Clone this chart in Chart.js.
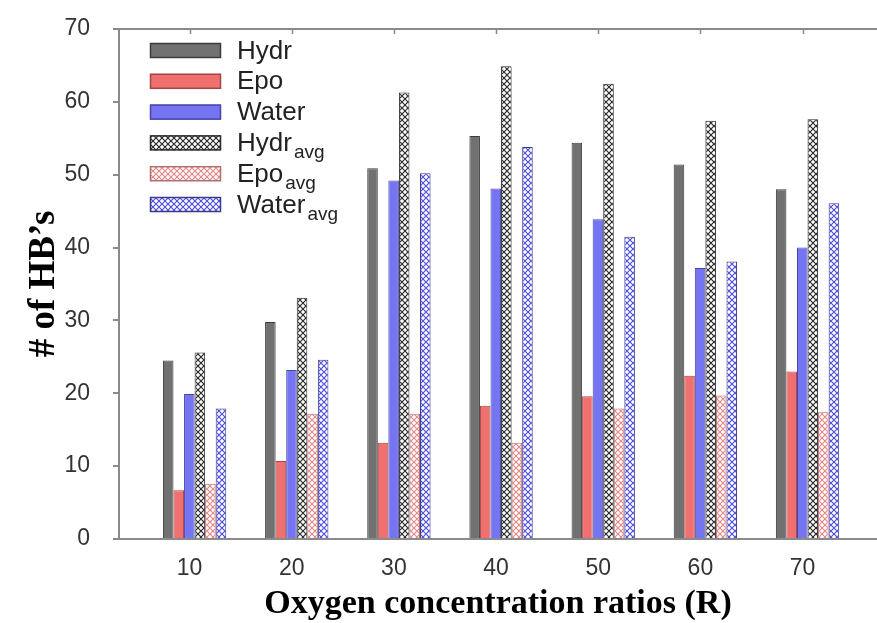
<!DOCTYPE html>
<html><head><meta charset="utf-8">
<script src="https://cdn.jsdelivr.net/npm/chart.js@4/dist/chart.umd.min.js"></script>
<style>html,body{margin:0;padding:0;background:#fff;overflow:hidden;} canvas{display:block;}</style>
</head><body>
<canvas id="c" width="877" height="623"></canvas>
<script>
const categories = [10, 20, 30, 40, 50, 60, 70];
const hydr     = [24.5, 29.8, 50.9, 55.3, 54.4, 51.4, 48.0];
const epo      = [6.7, 10.7, 13.2, 18.3, 19.6, 22.4, 23.0];
const water    = [19.9, 23.2, 49.2, 48.1, 43.9, 37.2, 40.0];
const hydrAvg  = [25.6, 33.1, 61.3, 64.9, 62.5, 57.4, 57.6];
const epoAvg   = [7.6, 17.2, 17.2, 13.2, 17.9, 19.7, 17.4];
const waterAvg = [17.9, 24.6, 50.2, 53.8, 41.5, 38.1, 46.1];
const seriesNames = ['Hydr', 'Epo', 'Water', 'Hydr', 'Epo', 'Water'];
const seriesSubs  = ['', '', '', 'avg', 'avg', 'avg'];
const yTicks = [0, 10, 20, 30, 40, 50, 60, 70];

function hatch(color) {
  const c = document.createElement('canvas');
  c.width = 6; c.height = 6;
  const g = c.getContext('2d');
  g.fillStyle = '#fff'; g.fillRect(0, 0, 6, 6);
  g.strokeStyle = color; g.lineWidth = 1.2;
  g.beginPath();
  g.moveTo(0, 0); g.lineTo(6, 6);
  g.moveTo(6, 0); g.lineTo(0, 6);
  g.stroke();
  return g.createPattern(c, 'repeat');
}
const pts = arr => categories.map((x, i) => ({ x: x, y: arr[i] }));

const styles = [
  { bg: '#717171', bd: '#3c3c3c' },
  { bg: '#f07070', bd: '#a84444' },
  { bg: '#7575f2', bd: '#4646a6' },
  { bg: hatch('#2a2a2a'), bd: '#2a2a2a' },
  { bg: hatch('#e88888'), bd: '#b07070' },
  { bg: hatch('#5050e0'), bd: '#3a3a90' }
];
const seriesData = [hydr, epo, water, hydrAvg, epoAvg, waterAvg];

const AXIS = '#8a8a8a';
const LABEL_SHIFT = -5;

const bgPlugin = {
  id: 'bg',
  beforeDraw(chart) {
    const ctx = chart.ctx;
    ctx.save();
    ctx.fillStyle = '#ffffff';
    ctx.fillRect(0, 0, chart.width, chart.height);
    ctx.restore();
  }
};

const customLegend = {
  id: 'customLegend',
  afterDraw(chart) {
    const ctx = chart.ctx, a = chart.chartArea;
    const x0 = a.left + 31, y0 = a.top + 14, rowH = 30.8, bw = 71, bh = 15;
    ctx.save();
    chart.data.datasets.forEach((ds, i) => {
      const y = y0 + i * rowH;
      ctx.fillStyle = ds.backgroundColor;
      ctx.fillRect(x0, y, bw, bh);
      ctx.strokeStyle = ds.borderColor;
      ctx.lineWidth = 1.5;
      ctx.strokeRect(x0 + 0.5, y + 0.5, bw - 1, bh - 1);
      ctx.fillStyle = '#222';
      ctx.textBaseline = 'alphabetic';
      ctx.textAlign = 'left';
      ctx.font = '26px "Liberation Sans", Arial, sans-serif';
      const tx = x0 + 87, base = y + bh / 2 + 8;
      ctx.fillText(seriesNames[i], tx, base);
      if (seriesSubs[i]) {
        const w = ctx.measureText(seriesNames[i]).width;
        ctx.font = '19px "Liberation Sans", Arial, sans-serif';
        ctx.fillText(seriesSubs[i], tx + w + 2, base + 7);
      }
    });
    ctx.restore();
  }
};

const frame = {
  id: 'frame',
  afterDraw(chart) {
    const ctx = chart.ctx, a = chart.chartArea, xs = chart.scales.x;
    ctx.save();
    ctx.strokeStyle = AXIS;
    ctx.lineWidth = 2;
    ctx.beginPath();
    ctx.moveTo(a.left, a.top); ctx.lineTo(chart.width, a.top);
    ctx.moveTo(a.left, a.bottom); ctx.lineTo(chart.width, a.bottom);
    ctx.stroke();
    ctx.lineWidth = 1.5;
    categories.forEach(v => {
      const px = Math.round(xs.getPixelForValue(v) + LABEL_SHIFT) + 0.5;
      ctx.beginPath(); ctx.moveTo(px, a.top); ctx.lineTo(px, a.top + 5); ctx.stroke();
    });
    ctx.restore();
  }
};

new Chart(document.getElementById('c'), {
  type: 'bar',
  data: {
    datasets: seriesData.map((arr, i) => ({
      label: seriesNames[i] + seriesSubs[i],
      data: pts(arr),
      backgroundColor: styles[i].bg,
      borderColor: styles[i].bd,
      borderWidth: 1,
      categoryPercentage: 0.62,
      barPercentage: 1.0
    }))
  },
  options: {
    responsive: false,
    animation: false,
    devicePixelRatio: 1,
    layout: { padding: { top: 29, left: 0, right: 0, bottom: 0 } },
    plugins: { legend: { display: false }, tooltip: { enabled: false } },
    scales: {
      x: {
        type: 'linear',
        min: 2.6, max: 76.8,
        offset: false,
        grid: { display: false, drawTicks: false, offset: false },
        border: { display: true, color: AXIS, width: 2 },
        afterBuildTicks: s => { s.ticks = categories.map(v => ({ value: v })); },
        afterFit: s => { s.height = 84; s.paddingLeft = 0; s.paddingRight = 0; },
        ticks: {
          labelOffset: LABEL_SHIFT,
          padding: 16,
          color: '#333',
          font: { family: '"Liberation Sans", Arial, sans-serif', size: 23 },
          callback: v => String(v)
        },
        title: {
          display: true,
          text: 'Oxygen concentration ratios (R)',
          color: '#000',
          font: { family: '"Liberation Serif", "Times New Roman", serif', size: 34, weight: 'bold', lineHeight: 1.1 },
          padding: { top: 0, bottom: 0 }
        }
      },
      y: {
        min: 0, max: 70,
        afterBuildTicks: s => { s.ticks = yTicks.map(v => ({ value: v })); },
        afterFit: s => { s.width = 119; s.paddingTop = 14; s.paddingBottom = 14; },
        grid: { drawOnChartArea: false, drawTicks: true, tickLength: 6, color: AXIS, lineWidth: 2 },
        border: { display: true, color: AXIS, width: 2 },
        ticks: {
          padding: 23,
          color: '#333',
          font: { family: '"Liberation Sans", Arial, sans-serif', size: 23 }
        },
        title: {
          display: true,
          text: '# of HB\u2019s',
          color: '#000',
          font: { family: '"Liberation Serif", "Times New Roman", serif', size: 37, weight: 'bold', lineHeight: 1.1 },
          padding: { top: 24, bottom: 0 }
        }
      }
    }
  },
  plugins: [bgPlugin, customLegend, frame]
});
</script>
</body></html>
